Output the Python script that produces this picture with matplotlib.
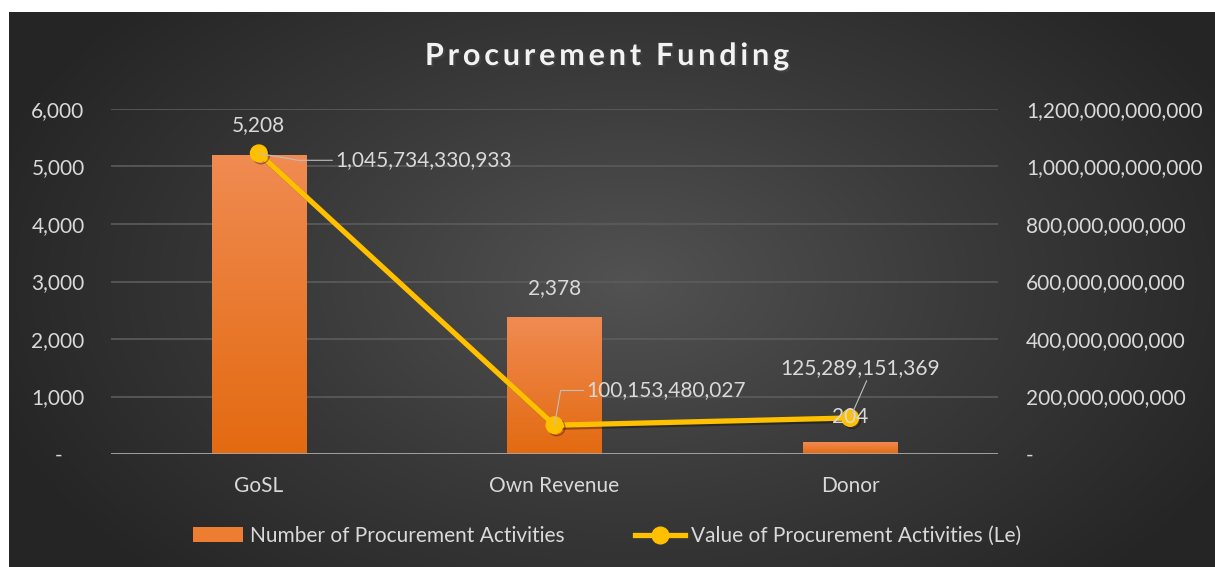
import numpy as np
import matplotlib
matplotlib.use("Agg")
import matplotlib.pyplot as plt
import matplotlib.patheffects as pe
from matplotlib.colors import LinearSegmentedColormap
from matplotlib.ticker import FuncFormatter
from matplotlib.patches import Patch
from matplotlib.lines import Line2D

plt.rcParams['font.family'] = ['Lato', 'DejaVu Sans']

# data
categories = ["GoSL", "Own Revenue", "Donor"]
num_activities = [5208, 2378, 204]
value_activities = [1045734330933, 100153480027, 125289151369]
bar_label = "Number of Procurement Activities"
line_label = "Value of Procurement Activities (Le)"

W, H = 1215, 567
fig = plt.figure(figsize=(W / 100, H / 100), dpi=100)
fig.patch.set_facecolor("white")

# radial gradient background
bg = fig.add_axes([9 / W, 0, 1 - 9 / W, 1 - 12 / H])
bg.set_axis_off()
yy, xx = np.mgrid[0:555, 0:1206]
d = np.sqrt(((xx - 620) / 680.0) ** 2 + ((yy - 270) / 420.0) ** 2)
d = np.clip(d, 0, 1)
bg_cmap = LinearSegmentedColormap.from_list("bg", ["#525252", "#3a3a3a", "#252525"])
bg.imshow(d, cmap=bg_cmap, aspect="auto", extent=[0, 1, 0, 1], origin="upper")
bg.set_xlim(0, 1)
bg.set_ylim(0, 1)

ax = fig.add_axes([111 / W, (H - 454) / H, (998 - 111) / W, (454 - 109) / H])
ax.set_facecolor("none")
ax2 = ax.twinx()

x = np.arange(len(categories))
bars = ax.bar(x, num_activities, width=0.32, color="#ED7D31", zorder=2)

# vertical gradient inside bars
bar_cmap = LinearSegmentedColormap.from_list("bar", ["#E36A10", "#F08B52"])
grad = np.linspace(0, 1, 256).reshape(-1, 1)
for b in bars:
    bx, by = b.get_x(), b.get_y()
    bw, bh = b.get_width(), b.get_height()
    im = ax.imshow(grad, cmap=bar_cmap, aspect="auto", origin="lower",
                   extent=[bx, bx + bw, by, by + bh], zorder=3)
    im.set_clip_path(b)

ax.set_xlim(-0.5, 2.5)
ax.set_ylim(0, 6000)
ax.set_yticks(np.arange(0, 6001, 1000))
ax2.set_ylim(0, 1.2e12)
ax2.set_yticks(np.arange(0, 1.21e12, 2e11))

ax.grid(axis="y", color="#5c5c5c", linewidth=1.2, zorder=0)
ax.set_axisbelow(True)

def left_fmt(v, pos):
    return "-    " if v == 0 else "{:,.0f}".format(v)

def right_fmt(v, pos):
    return "-" if v == 0 else "{:,.0f}".format(v)

ax.yaxis.set_major_formatter(FuncFormatter(left_fmt))
ax2.yaxis.set_major_formatter(FuncFormatter(right_fmt))

ax.set_xticks(x)
ax.set_xticklabels(categories)

fs = 15
tick_col = "#d9d9d9"
ax.tick_params(axis="y", length=0, pad=19, labelsize=fs, labelcolor=tick_col)
ax2.tick_params(axis="y", length=0, pad=20, labelsize=fs, labelcolor=tick_col)
ax.tick_params(axis="x", length=0, pad=16, labelsize=fs, labelcolor=tick_col)

for a in (ax, ax2):
    for s in a.spines.values():
        s.set_visible(False)
ax.axhline(0, color="#a6a6a6", linewidth=2, zorder=4)

line, = ax2.plot(x, value_activities, color="#FFC000", linewidth=3.8,
                 marker="o", markersize=12, zorder=5,
                 path_effects=[pe.SimpleLineShadow(offset=(1.5, -1.5), alpha=0.35),
                               pe.Normal()])

lab_kw = dict(color="#d9d9d9", fontsize=fs, zorder=10)

# bar value labels
bar_offsets = [(0, 14), (0, 14), (0, 11)]
for xi, v, off in zip(x, num_activities, bar_offsets):
    yv = v / 6000 * 1.2e12
    ax2.annotate("{:,}".format(v), (xi, yv), xytext=off, textcoords="offset points",
                 ha="center", va="bottom", **lab_kw)

# line value labels with leader lines
lead = dict(arrowstyle="-", color="#bfbfbf", linewidth=0.8, shrinkA=0, shrinkB=0)
ax2.annotate("{:,}".format(value_activities[0]), (x[0], value_activities[0]),
             xytext=(55, -5), textcoords="offset points", ha="left", va="center",
             arrowprops=dict(lead, connectionstyle="angle,angleA=0,angleB=-10,rad=0"),
             **lab_kw)
ax2.annotate("{:,}".format(value_activities[1]), (x[1], value_activities[1]),
             xytext=(23, 25), textcoords="offset points", ha="left", va="center",
             arrowprops=dict(lead, connectionstyle="angle,angleA=0,angleB=80,rad=0"),
             **lab_kw)
ax2.annotate("{:,}".format(value_activities[2]), (x[2], value_activities[2]),
             xytext=(7, 36), textcoords="offset points", ha="center", va="center",
             arrowprops=dict(lead, relpos=(0.55, 0.0)),
             **lab_kw)

# title
title = "\u2009".join("Procurement") + "  " + "\u2009".join("Funding")
fig.text(0.5, (H - 56) / H, title,
         ha="center", va="center", fontsize=22, fontweight="bold", color="#f2f2f2",
         path_effects=[pe.withSimplePatchShadow(offset=(1.5, -1.5), alpha=0.6)])

# legend
handles = [Patch(facecolor="#ED7D31", edgecolor="none"),
           Line2D([0], [0], color="#FFC000", linewidth=3.8, marker="o", markersize=12)]
leg = fig.legend(handles, [bar_label, line_label], loc="center",
                 bbox_to_anchor=(0.5, (H - 536) / H), ncol=2, frameon=False,
                 fontsize=fs, labelcolor="#d9d9d9", handlelength=2.4,
                 handletextpad=0.3, columnspacing=3.4)

fig.savefig("out.png", dpi=100, facecolor=fig.get_facecolor())
